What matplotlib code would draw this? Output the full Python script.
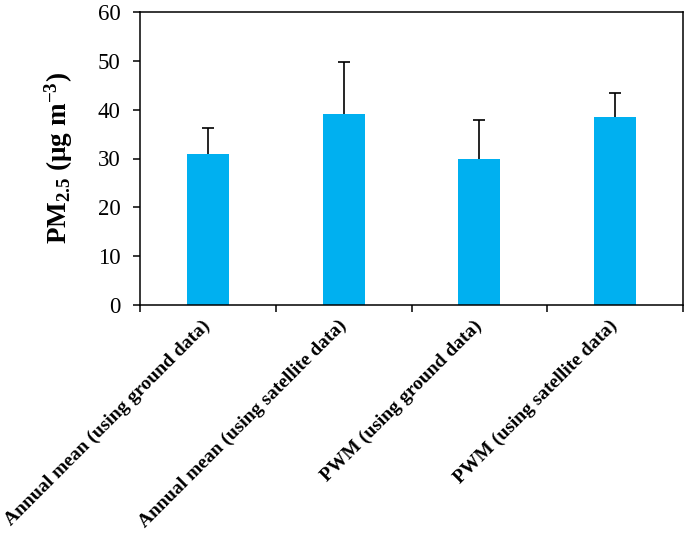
import matplotlib
matplotlib.use("Agg")
import matplotlib.pyplot as plt
import numpy as np

categories = ["Annual mean (using ground data)",
              "Annual mean (using satellite data)",
              "PWM (using ground data)",
              "PWM (using satellite data)"]
values = [30.9, 39.1, 30.0, 38.6]
errors = [5.3, 10.6, 7.9, 4.8]
yticks = [0, 10, 20, 30, 40, 50, 60]

plt.rcParams['font.family'] = ['Liberation Serif', 'DejaVu Serif']
plt.rcParams['mathtext.fontset'] = 'custom'
plt.rcParams['mathtext.rm'] = 'Liberation Serif'
plt.rcParams['mathtext.bf'] = 'Liberation Serif:bold'
plt.rcParams['mathtext.default'] = 'regular'

fig = plt.figure(figsize=(6.85, 5.41), dpi=100)
ax = fig.add_axes([140/685, 1-305/541, 543/685, (305-12)/541])

x = np.arange(len(categories))
ax.bar(x, values, width=0.31, color='#00B0F0', zorder=2)
_, caplines, _ = ax.errorbar(x, values, yerr=[np.zeros(len(errors)), errors], fmt='none',
                             ecolor='black', elinewidth=1.2, capsize=4.5, capthick=1.2, zorder=3)
for cl in caplines:
    if np.allclose(cl.get_ydata(), values):
        cl.set_visible(False)

ax.set_xlim(-0.5, len(categories) - 0.5)
ax.set_ylim(0, 60)
ax.set_yticks(yticks)
ax.set_yticklabels([str(v) for v in yticks], fontsize=16.5)
ax.tick_params(axis='y', direction='out', length=5, width=1.1, pad=9)

ax.set_xticks(x)
ax.set_xticklabels(categories, rotation=45, ha='right', va='center',
                   rotation_mode='anchor', fontsize=14, fontweight='bold')
ax.tick_params(axis='x', which='major', length=0, pad=13)
ax.set_xticks(np.arange(-0.5, len(categories)), minor=True)
ax.tick_params(axis='x', which='minor', direction='out', length=5, width=1.1)

for s in ax.spines.values():
    s.set_linewidth(1.1)

ax.set_ylabel('PM$_{2.5}$ (μg m$^{−3}$)', fontsize=19.5, fontweight='bold', labelpad=16)

fig.savefig('out.png', dpi=100)
